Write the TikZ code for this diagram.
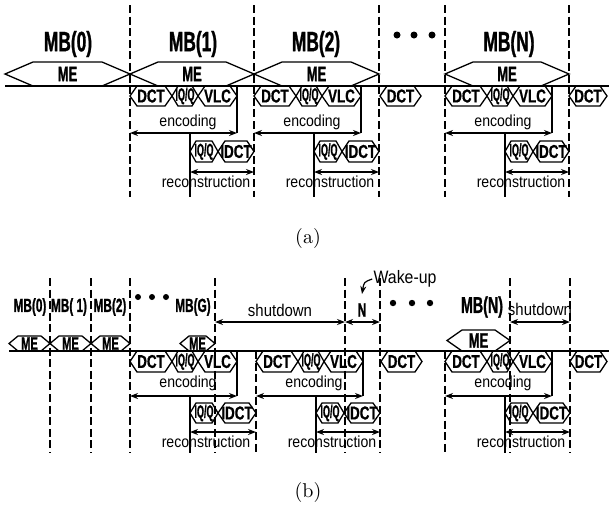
\documentclass[tikz,border=0pt]{standalone}
\usepackage{fontspec}
\newfontfamily\cnfont[FakeStretch=0.72, BoldFeatures={FakeBold=0.8}]{Liberation Sans}
\newfontfamily\cnxfont[FakeStretch=0.62, BoldFeatures={FakeBold=1}]{Liberation Sans}
\newfontfamily\cnqfont[FakeStretch=0.5, BoldFeatures={FakeBold=0.8}]{Liberation Sans}
\newfontfamily\cnlfont[FakeStretch=0.88]{Liberation Sans}
\usetikzlibrary{arrows.meta}

\newcommand\fMB{\cnxfont\bfseries\fontsize{14}{15}\selectfont}
\newcommand\fMBs{\cnxfont\bfseries\fontsize{9.5}{10}\selectfont}
\newcommand\fMBm{\cnxfont\bfseries\fontsize{11.5}{12}\selectfont}
\newcommand\fME{\cnxfont\bfseries\fontsize{10.5}{11}\selectfont}
\newcommand\fMEs{\cnxfont\bfseries\fontsize{9}{10}\selectfont}
\newcommand\fHex{\cnfont\bfseries\fontsize{9.3}{10}\selectfont}
\newcommand\fQ{\cnqfont\bfseries\fontsize{9}{10}\selectfont}
\newcommand\fSm{\cnlfont\fontsize{8}{9}\selectfont}
\newcommand\fWake{\cnlfont\fontsize{9}{10}\selectfont}

\tikzset{
  slot/.style={draw, line width=0.65pt},
  dashline/.style={line width=0.6pt, dash pattern=on 4pt off 1.8pt},
  spanarrow/.style={line width=0.65pt, {Stealth[length=4pt,width=3pt]}-{Stealth[length=4pt,width=3pt]}},
  lbl/.style={inner sep=0pt},
}

% hexagon: name, x1, x2, ytop, ybot, point depth, text
\newcommand\hexnode[7]{%
  \draw[slot] (#2,{(#4+#5)/2}) -- ({#2+#6},#4) -- ({#3-#6},#4) -- (#3,{(#4+#5)/2})
    -- ({#3-#6},#5) -- ({#2+#6},#5) -- cycle;
  \node[lbl] (#1) at ({(#2+#3)/2},{(#4+#5)/2}) {#7};}

% one macroblock column: prefix, start, end
\newcommand\mbcol[3]{%
  \hexnode{#1dct}{#2}{#2+42}{\yBase}{\yHex}{7}{\fHex DCT}
  \hexnode{#1q}{#2+42}{#2+68}{\yBase}{\yHex}{6}{\fQ IQ/Q}
  \hexnode{#1vlc}{#2+68}{#2+107}{\yBase}{\yHex}{7}{\fHex VLC}
  \coordinate (#1top) at (#2+107,\yBase);
  \coordinate (#1e0) at (#2,\yEncA);
  \coordinate (#1e1) at (#2+107,\yEncA);
  \draw[slot] (#1top) -- (#1e1);
  \draw[spanarrow] (#1e0) -- (#1e1);
  \node[lbl] (#1enc) at (#2+58,\yEncL) {\fSm encoding};
  \hexnode{#1iq}{#2+60}{#2+88}{\yRecT}{\yRecB}{6}{\fQ IQ/Q}
  \hexnode{#1idct}{#2+88}{#3}{\yRecT}{\yRecB}{7}{\fHex IDCT}
  \coordinate (#1r0) at (#2+60,\yRecA);
  \coordinate (#1r1) at (#3,\yRecA);
  \coordinate (#1bot) at (#2+60,\yDash);
  \draw[slot] (#1r0 |- #1e0) -- (#1bot);
  \draw[spanarrow] (#1r0) -- (#1r1);
  \node[lbl] (#1rec) at (#2+76,\yRecL) {\fSm reconstruction};}

\begin{document}
\begin{tikzpicture}[x=0.5pt, y=-0.5pt]
\useasboundingbox (0,0) rectangle (609,510);

% ---------- (a) ----------
\def\yBase{86}\def\yHex{106}\def\yEncL{122}\def\yEncA{133}
\def\yRecT{141}\def\yRecB{162}\def\yRecA{172}\def\yRecL{182}\def\yDash{197}

\foreach \x in {130,254,379,445,569}
  \draw[dashline] (\x,5) -- (\x,\yDash);

\node[lbl] (a-mb0) at (68,44) {\fMB MB(0)};
\node[lbl] (a-mb1) at (193,44) {\fMB MB(1)};
\node[lbl] (a-mb2) at (316,44) {\fMB MB(2)};
\node[lbl] (a-mbn) at (509,44) {\fMB MB(N)};
\foreach \x in {397,414,432}
  \fill (\x,35) circle (3.5);

\coordinate (a-left) at (5,\yBase);
\coordinate (a-right) at (609,\yBase);
\draw[slot] (a-left) -- (a-right);

\hexnode{a-me0}{5}{130}{62}{\yBase}{28}{\fME ME}
\hexnode{a-me1}{130}{254}{62}{\yBase}{28}{\fME ME}
\hexnode{a-me2}{254}{379}{62}{\yBase}{28}{\fME ME}
\hexnode{a-men}{445}{569}{62}{\yBase}{28}{\fME ME}

\mbcol{a1}{130}{254}
\mbcol{a2}{254}{379}
\mbcol{aN}{445}{569}
\hexnode{a-dct3}{380}{421}{\yBase}{\yHex}{7}{\fHex DCT}
\hexnode{a-dct4}{569}{607}{\yBase}{\yHex}{7}{\fHex DCT}

\node (cap-a) at (308,238) {\fontsize{10}{12}\selectfont (a)};

% ---------- (b) ----------
\def\yBase{351}\def\yHex{372}\def\yEncL{383}\def\yEncA{396}
\def\yRecT{403}\def\yRecB{423}\def\yRecA{432}\def\yRecL{442}\def\yDash{453}

\foreach \x in {50,91,130,215,345,380,510,570}
  \draw[dashline] (\x,278) -- (\x,\yDash);
\foreach \x in {256,445}
  \draw[dashline] (\x,\yBase) -- (\x,\yDash);

\node[lbl] (b-mb0) at (30,307) {\fMBs MB(0)};
\node[lbl] (b-mb1) at (69,307) {\fMBs MB( 1)};
\node[lbl] (b-mb2) at (110,307) {\fMBs MB(2)};
\node[lbl] (b-mbg) at (193,307) {\fMBs MB(G)};
\node[lbl] (b-mbn) at (482,307) {\fMBm MB(N)};
\foreach \x in {138,152,166}
  \fill (\x,297) circle (3);
\foreach \x in {393,412,430}
  \fill (\x,303) circle (3.2);

\coordinate (b-sd0) at (215,322);
\coordinate (b-sd1) at (345,322);
\coordinate (b-n1) at (380,322);
\coordinate (b-sd2) at (510,322);
\coordinate (b-sd3) at (570,322);
\draw[spanarrow] (b-sd0) -- (b-sd1);
\draw[spanarrow] (b-sd1) -- (b-n1);
\draw[spanarrow] (b-sd2) -- (b-sd3);
\node[lbl] (b-shut1) at (280,310) {\fSm\fontsize{8.5}{9}\selectfont shutdown};
\node[lbl] (b-n) at (362,310) {\fMBs N};
\node[lbl] (b-shut2) at (540,309) {\fSm\fontsize{8.5}{9}\selectfont shutdown};
\node[lbl] (b-wake) at (405,279) {\fWake Wake-up};
\coordinate (b-waketip) at (362,294);
\draw[line width=0.6pt, -{Stealth[length=4pt,width=3pt]}] ([xshift=-0.5pt]b-wake.west)
  .. controls (364,282) .. (b-waketip);

\coordinate (b-left) at (9,\yBase);
\coordinate (b-right) at (609,\yBase);
\draw[slot] (b-left) -- (b-right);

\hexnode{b-me0}{9}{50}{336}{\yBase}{9}{\fMEs ME}
\hexnode{b-me1}{50}{91}{336}{\yBase}{9}{\fMEs ME}
\hexnode{b-me2}{91}{130}{336}{\yBase}{9}{\fMEs ME}
\hexnode{b-meg}{180}{215}{336}{\yBase}{9}{\fMEs ME}
\hexnode{b-men}{447}{510}{330}{\yBase}{15}{\fME ME}

\mbcol{b1}{130}{256}
\mbcol{b2}{256}{380}
\mbcol{bN}{445}{570}
\hexnode{b-dct3}{381}{422}{\yBase}{\yHex}{7}{\fHex DCT}
\hexnode{b-dct4}{570}{607}{\yBase}{\yHex}{7}{\fHex DCT}

\node (cap-b) at (308,492) {\fontsize{10}{12}\selectfont (b)};
\end{tikzpicture}
\end{document}
